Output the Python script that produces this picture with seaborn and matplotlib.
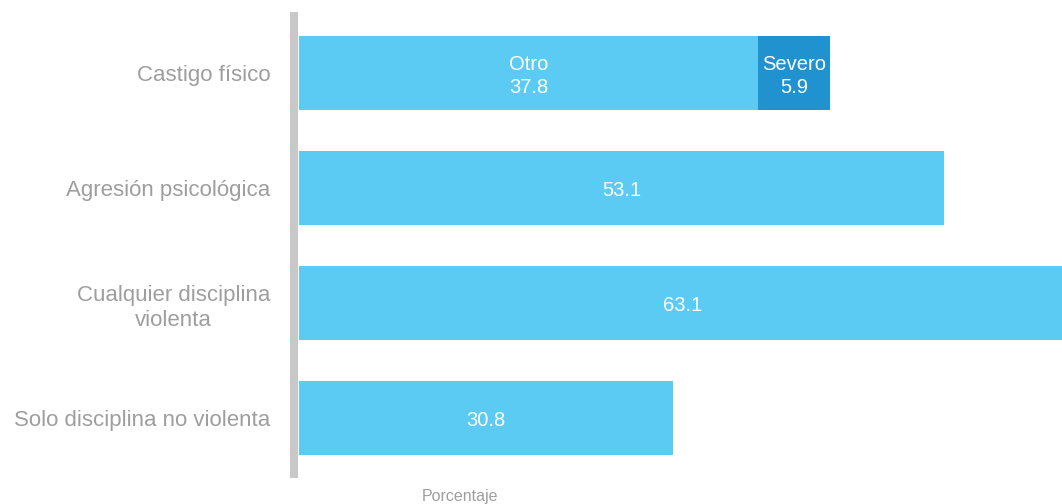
import pandas as pd
import numpy as np
import seaborn as sns
import matplotlib.pyplot as plt

categorias = ["Castigo físico", "Agresión psicológica", "Cualquier disciplina\nviolenta", "Solo disciplina no violenta"]
otro = [37.8, 53.1, 63.1, 30.8]
severo = [5.9, 0, 0, 0]

sns.set_style("white")
plt.rcParams['font.family'] = ['Liberation Sans', 'DejaVu Sans']

claro = "#5ccbf3"
oscuro = "#2092cf"
gris = "#9e9e9e"

df = pd.DataFrame({"cat": categorias, "otro": otro, "severo": severo})

fig = plt.figure(figsize=(10.62, 5.04), dpi=100)
ax = fig.add_axes([299/1062, 26/504, 763/1062, 466/504])

sns.barplot(data=df, x="otro", y="cat", color=claro, width=0.64, saturation=1, linewidth=0, ax=ax)
# severo segment stacked after otro
ax.barh(np.arange(len(df)), df["severo"], left=df["otro"], height=0.64, color=oscuro, linewidth=0)

for i, r in df.iterrows():
    if r["severo"] > 0:
        ax.text(r["otro"] / 2, i + 0.025, "Otro\n%.1f" % r["otro"], color="white",
                ha="center", va="center", fontsize=14.5, linespacing=1.3)
        ax.text(r["otro"] + r["severo"] / 2, i + 0.025, "Severo\n%.1f" % r["severo"], color="white",
                ha="center", va="center", fontsize=14.5, linespacing=1.3)
    else:
        ax.text(r["otro"] / 2, i + 0.02, "%.1f" % r["otro"], color="white", ha="center", va="center", fontsize=14.5)

ax.set_xlim(0, 62.8)
ax.set_ylim(3.52, -0.53)
ax.set_xlabel("")
ax.set_ylabel("")
ax.set_xticks([])
ax.tick_params(axis="y", length=0, pad=17, labelsize=16, labelcolor=gris)

for s in ["top", "right", "bottom"]:
    ax.spines[s].set_visible(False)
ax.spines["left"].set_color("#c8c8c8")
ax.spines["left"].set_linewidth(5.8)
ax.spines["left"].set_capstyle("butt")
ax.spines["left"].set_position(("outward", 3.6))

fig.text(460/1062, 0, "Porcentaje", ha="center", va="bottom", fontsize=11.5, color=gris)

fig.canvas.draw()
for lab in ax.get_yticklabels():
    lab.set_multialignment("center")
    lab.set_linespacing(1.3)

plt.savefig("out.png", dpi=100)
